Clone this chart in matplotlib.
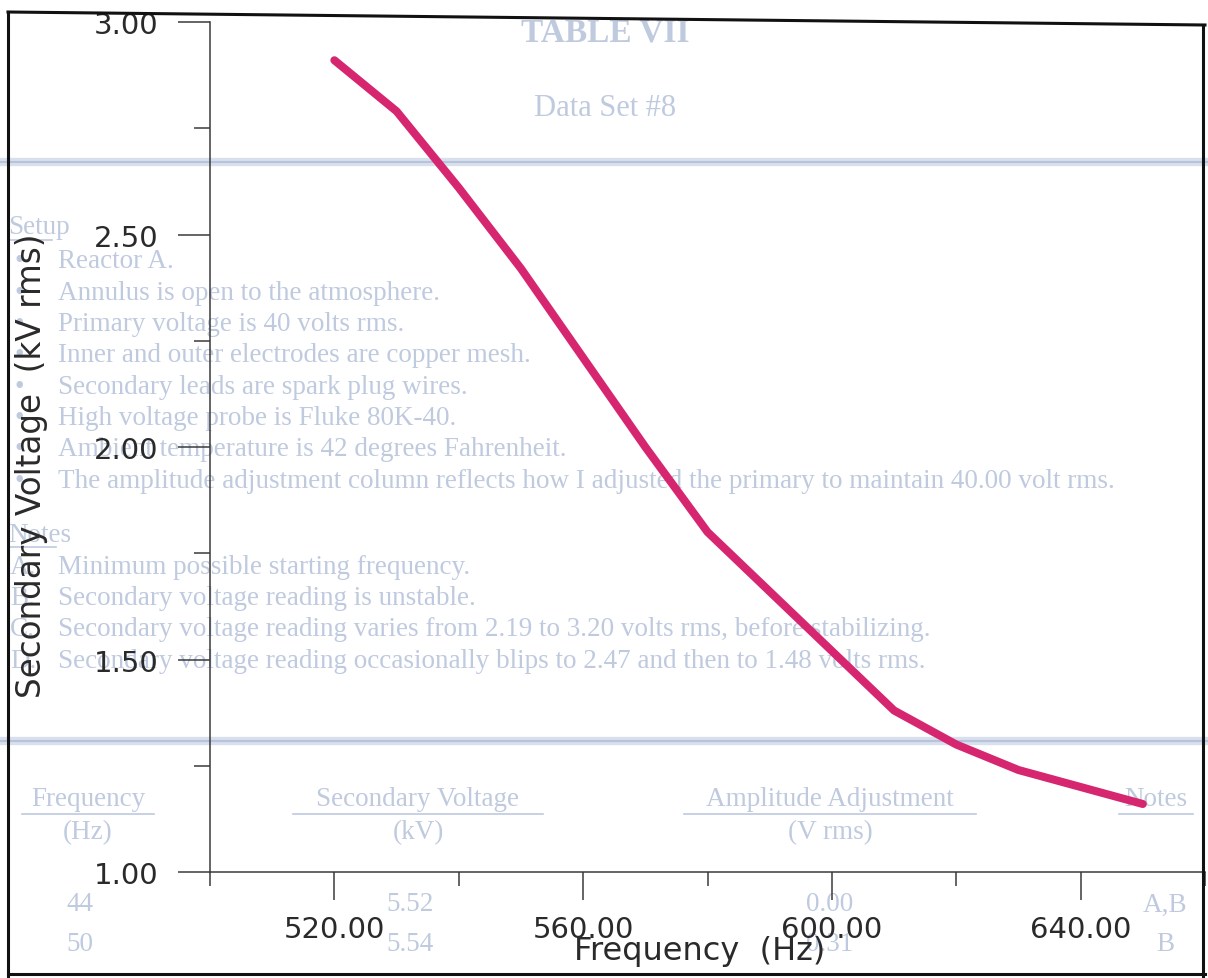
import numpy as np
import matplotlib
matplotlib.use("Agg")
import matplotlib.pyplot as plt
from matplotlib.lines import Line2D
from matplotlib.ticker import MultipleLocator, FormatStrFormatter

# data
freq = [520, 530, 540, 550, 560, 570, 580, 590, 600, 610, 620, 630, 640, 650]
volt = [2.91, 2.79, 2.61, 2.42, 2.21, 2.00, 1.80, 1.66, 1.52, 1.38, 1.30, 1.24, 1.20, 1.16]

x_major = [520, 560, 600, 640]
y_major = [1.00, 1.50, 2.00, 2.50, 3.00]

# faded table printed on the back of the page
bullets = ["Reactor A.",
           "Annulus is open to the atmosphere.",
           "Primary voltage is 40 volts rms.",
           "Inner and outer electrodes are copper mesh.",
           "Secondary leads are spark plug wires.",
           "High voltage probe is Fluke 80K-40.",
           "Ambient temperature is 42 degrees Fahrenheit.",
           "The amplitude adjustment column reflects how I adjusted the primary to maintain 40.00 volt rms."]
notes = [("A.", "Minimum possible starting frequency."),
         ("B.", "Secondary voltage reading is unstable."),
         ("C.", "Secondary voltage reading varies from 2.19 to 3.20 volts rms, before stabilizing."),
         ("D.", "Secondary voltage reading occasionally blips to 2.47 and then to 1.48 volts rms.")]
col_heads = ["Frequency", "Secondary Voltage", "Amplitude Adjustment", "Notes"]
col_units = ["(Hz)", "(kV)", "(V rms)", ""]
rows = [["44", "5.52", "0.00", "A,B"],
        ["50", "5.54", "0.31", "B"]]

W, H = 1208, 979
fig = plt.figure(figsize=(W / 100, H / 100), dpi=100)
fig.patch.set_facecolor("white")

def fx(px):
    return px / W

def fy(py):
    return 1 - py / H

ghost = "#bfcadf"
serif = "Liberation Serif"

def gtext(x, y, s, **kw):
    kw.setdefault("fontsize", 19.5)
    kw.setdefault("family", serif)
    kw.setdefault("color", ghost)
    kw.setdefault("va", "center")
    return fig.text(fx(x), fy(y), s, zorder=-2, **kw)

def underline(x0, x1, y):
    fig.add_artist(Line2D([fx(x0), fx(x1)], [fy(y), fy(y)], transform=fig.transFigure,
                          color=ghost, lw=1.2, zorder=-2))

gtext(605, 33, "TABLE VII", ha="center", fontsize=24, fontweight="bold")
gtext(605, 108, "Data Set #8", ha="center", fontsize=22)
for yy in [163, 742]:
    fig.add_artist(Line2D([0, 1], [fy(yy), fy(yy)], transform=fig.transFigure,
                          color="#d8e0ee", lw=6, zorder=-3))
    fig.add_artist(Line2D([0, 1], [fy(yy), fy(yy)], transform=fig.transFigure,
                          color="#b6c3db", lw=1.5, zorder=-3))

gtext(8, 228, "Setup")
underline(8, 52, 241)
for i, s in enumerate(bullets):
    y = 262 + i * 31.3
    gtext(14, y, "\u2022")
    gtext(58, y, s)
gtext(8, 535, "Notes")
underline(8, 56, 548)
for i, (k, s) in enumerate(notes):
    y = 568 + i * 31
    gtext(10, y, k)
    gtext(58, y, s)

col_x = [88, 418, 830, 1156]
col_w = [132, 250, 292, 74]
for cx, cw, h, u in zip(col_x, col_w, col_heads, col_units):
    gtext(cx, 800, h, ha="center")
    underline(cx - cw / 2, cx + cw / 2, 815)
    gtext(cx, 833, u, ha="center")
for r, yy in zip(rows, [905, 945]):
    for cx, v in zip([80, 410, 830, 1165], r):
        gtext(cx, yy, v, ha="center")

# chart axes
ax = fig.add_axes([fx(210), fy(873), 995 / W, 850 / H])
ax.patch.set_alpha(0)
ax.plot(freq, volt, color="#d6266f", lw=5.8, solid_capstyle="round",
        solid_joinstyle="round", zorder=3)

ax.set_xlim(500, 660)
ax.set_ylim(1.0, 3.0)
ax.xaxis.set_major_locator(plt.FixedLocator(x_major))
ax.xaxis.set_minor_locator(MultipleLocator(20))
ax.yaxis.set_major_locator(plt.FixedLocator(y_major))
ax.yaxis.set_minor_locator(MultipleLocator(0.25))
ax.xaxis.set_major_formatter(FormatStrFormatter("%.2f"))
ax.yaxis.set_major_formatter(FormatStrFormatter("%.2f"))

for side in ["top", "right"]:
    ax.spines[side].set_visible(False)
for side in ["left", "bottom"]:
    ax.spines[side].set_color("#3a3a3a")
    ax.spines[side].set_linewidth(1.1)
    ax.spines[side].set_zorder(2)

ink = "#2a2a2a"
ax.tick_params(axis="x", which="major", direction="out", length=20, width=1.1,
               pad=11, labelsize=21, colors="#3a3a3a", labelcolor=ink)
ax.tick_params(axis="x", which="minor", direction="out", length=10, width=1.1,
               colors="#3a3a3a")
ax.tick_params(axis="y", which="major", direction="out", length=23, width=1.1,
               pad=14, labelsize=21, colors="#3a3a3a", labelcolor=ink)
ax.tick_params(axis="y", which="minor", direction="out", length=11.5, width=1.1,
               colors="#3a3a3a")

ax.set_xlabel("Frequency  (Hz)", fontsize=23, color=ink)
ax.xaxis.set_label_coords((700 - 210) / 995, (873 - 936) / 850)
ax.set_ylabel("Secondary Voltage  (kV rms)", fontsize=23.5, color=ink, va="center")
ax.yaxis.set_label_coords((32 - 210) / 995, (873 - 466) / 850)

# scanned page frame
frame = [([8, 1205], [13, 26]), ([8, 8], [13, 979]), ([1203, 1203], [26, 979]),
         ([8, 1205], [975, 975])]
for xs, ys in frame:
    fig.add_artist(Line2D([fx(v) for v in xs], [fy(v) for v in ys],
                          transform=fig.transFigure, color="#111111", lw=2.2))

fig.savefig("out.png", dpi=100)
